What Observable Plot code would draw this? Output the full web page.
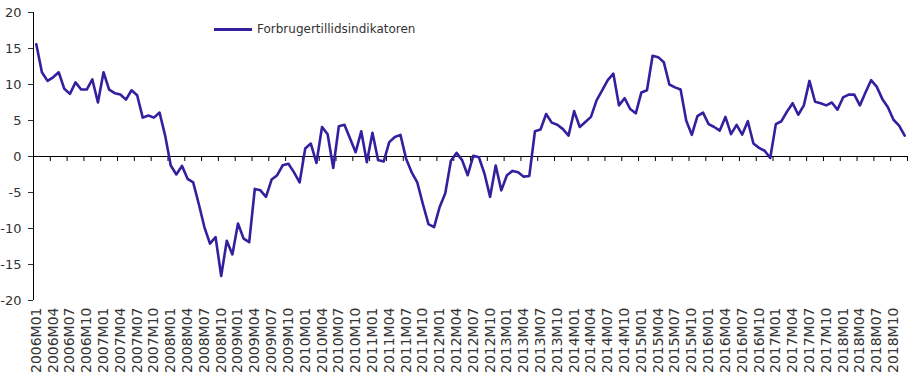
<!DOCTYPE html>
<html><head><meta charset="utf-8">
<script src="https://cdn.jsdelivr.net/npm/d3@7"></script>
<script src="https://cdn.jsdelivr.net/npm/@observablehq/plot@0.6"></script>
<style>
body{margin:0;background:#fff;}
#wrap{position:relative;width:916px;height:380px;}
#legend{position:absolute;left:214px;top:21px;font:12px "DejaVu Sans",sans-serif;color:#333;display:flex;align-items:center;line-height:16px;}
#legend .sw{display:inline-block;width:38px;height:3px;background:#32209e;margin-right:5px;}
</style></head><body>
<div id="wrap"><div id="legend"><span class="sw"></span><span id="legendText"></span></div></div>
<script>
const years = [2006,2007,2008,2009,2010,2011,2012,2013,2014,2015,2016,2017,2018];
const monthCodes = ["01","02","03","04","05","06","07","08","09","10","11","12"];
const seriesName = "Forbrugertillidsindikatoren";
const values = [
  15.6, 11.7, 10.5, 11.0, 11.7, 9.4, 8.7, 10.3, 9.3, 9.3, 10.7, 7.5,
  11.7, 9.3, 8.8, 8.6, 7.9, 9.2, 8.5, 5.4, 5.7, 5.4, 6.1, 2.9,
  -1.25, -2.5, -1.3, -3.1, -3.6, -6.6, -9.8, -12.1, -11.2, -16.6, -11.7, -13.6,
  -9.3, -11.4, -11.9, -4.5, -4.7, -5.6, -3.2, -2.6, -1.2, -1.0, -2.2, -3.6,
  1.1, 1.8, -0.9, 4.1, 3.1, -1.6, 4.2, 4.4, 2.5, 0.6, 3.5, -0.8,
  3.3, -0.5, -0.7, 2.0, 2.7, 3.0, -0.3, -2.2, -3.6, -6.6, -9.4, -9.8,
  -7.0, -5.1, -0.6, 0.5, -0.5, -2.6, 0.1, -0.1, -2.4, -5.6, -1.25, -4.7,
  -2.6, -2.0, -2.2, -2.8, -2.7, 3.5, 3.75, 5.9, 4.7, 4.4, 3.8, 2.9,
  6.3, 4.1, 4.8, 5.5, 7.8, 9.2, 10.6, 11.5, 7.1, 8.1, 6.6, 6.0,
  8.9, 9.2, 14.0, 13.8, 13.1, 10.0, 9.6, 9.3, 5.0, 3.0, 5.6, 6.1,
  4.5, 4.1, 3.6, 5.5, 3.1, 4.4, 3.05, 4.9, 1.8, 1.2, 0.8, -0.2,
  4.5, 4.9, 6.25, 7.4, 5.8, 7.1, 10.5, 7.6, 7.4, 7.1, 7.5, 6.5,
  8.2, 8.6, 8.6, 7.1, 8.9, 10.6, 9.7, 8.0, 6.85, 5.1, 4.3, 2.9
];
const yTicks = [-20, -15, -10, -5, 0, 5, 10, 15, 20];

const months = years.flatMap(y => monthCodes.map(m => `${y}M${m}`));
const data = values.map((v, i) => ({i, month: months[i], value: v}));
const labelIdx = months.map((m, i) => i).filter(i => i % 3 === 0);
const boundaries = labelIdx.slice(1).map(i => i - 0.5).concat([months.length - 0.5]);
const xDomain = [-0.5, months.length - 0.5];

document.getElementById("legendText").textContent = seriesName;

const chart = Plot.plot({
  width: 916, height: 380,
  marginLeft: 33, marginRight: 9, marginTop: 12, marginBottom: 80,
  style: {fontFamily: "DejaVu Sans, sans-serif", fontSize: "13px", color: "#333", background: "#fff"},
  x: {type: "linear", domain: xDomain},
  y: {domain: [-20, 20]},
  marks: [
    Plot.ruleX([xDomain[0]], {stroke: "#000"}),
    Plot.axisY({ticks: yTicks, tickSize: 5, tickPadding: 7, tickFormat: d => String(d), fontSize: 13, label: null}),
    Plot.axisX({ticks: labelIdx, tickFormat: i => months[i], tickRotate: -90, tickSize: 0, tickPadding: 7, fontSize: 14, label: null}),
    Plot.ruleY([0], {stroke: "#000"}),
    Plot.ruleX(boundaries, {y1: 0, y2: 0, insetTop: 5, stroke: "#000"}),
    Plot.lineY(data, {x: "i", y: "value", stroke: "#32209e", strokeWidth: 2.6})
  ]
});
document.getElementById("wrap").appendChild(chart);
</script>
</body></html>
